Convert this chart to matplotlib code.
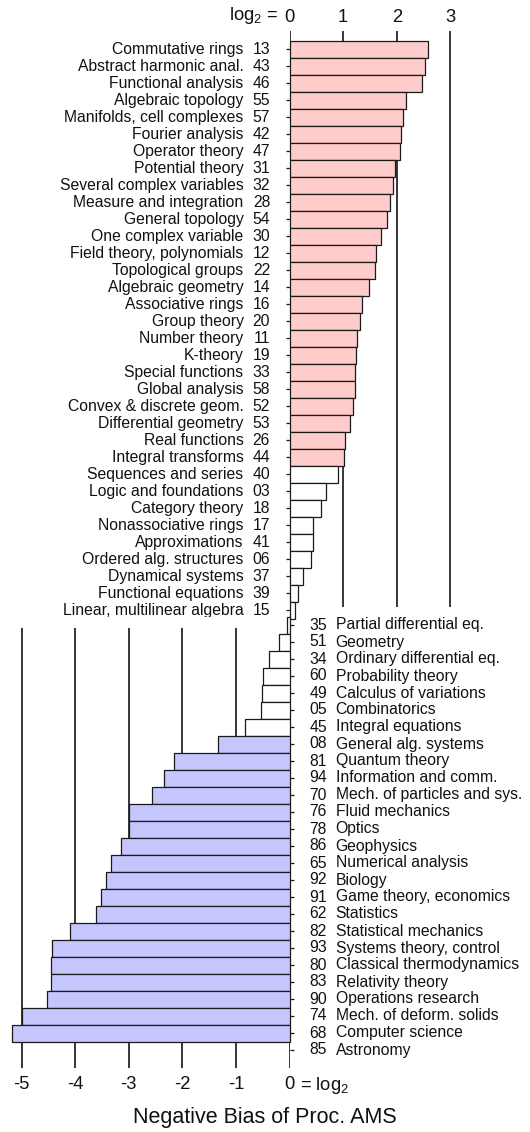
import numpy as np
import matplotlib
matplotlib.use("Agg")
import matplotlib.pyplot as plt

plt.rcParams['font.family'] = ['Liberation Sans', 'DejaVu Sans']
plt.rcParams['mathtext.fontset'] = 'custom'
plt.rcParams['mathtext.rm'] = 'Liberation Sans'
plt.rcParams['mathtext.it'] = 'Liberation Sans:italic'

# ---------------- data ----------------
top_names = ["Commutative rings", "Abstract harmonic anal.", "Functional analysis",
             "Algebraic topology", "Manifolds, cell complexes", "Fourier analysis",
             "Operator theory", "Potential theory", "Several complex variables",
             "Measure and integration", "General topology", "One complex variable",
             "Field theory, polynomials", "Topological groups", "Algebraic geometry",
             "Associative rings", "Group theory", "Number theory", "K-theory",
             "Special functions", "Global analysis", "Convex & discrete geom.",
             "Differential geometry", "Real functions", "Integral transforms",
             "Sequences and series", "Logic and foundations", "Category theory",
             "Nonassociative rings", "Approximations", "Ordered alg. structures",
             "Dynamical systems", "Functional equations", "Linear, multilinear algebra"]
top_codes = ["13", "43", "46", "55", "57", "42", "47", "31", "32", "28", "54", "30",
             "12", "22", "14", "16", "20", "11", "19", "33", "58", "52", "53", "26",
             "44", "40", "03", "18", "17", "41", "06", "37", "39", "15"]
top_vals = [2.59, 2.52, 2.48, 2.18, 2.12, 2.08, 2.065, 1.96, 1.94, 1.87, 1.82, 1.71,
            1.62, 1.60, 1.48, 1.35, 1.31, 1.26, 1.24, 1.23, 1.22, 1.19, 1.12, 1.04,
            1.01, 0.90, 0.68, 0.585, 0.44, 0.44, 0.40, 0.26, 0.15, 0.11]

bot_codes = ["35", "51", "34", "60", "49", "05", "45", "08", "81", "94", "70", "76",
             "78", "86", "65", "92", "91", "62", "82", "93", "80", "83", "90", "74",
             "68", "85"]
bot_names = ["Partial differential eq.", "Geometry", "Ordinary differential eq.",
             "Probability theory", "Calculus of variations", "Combinatorics",
             "Integral equations", "General alg. systems", "Quantum theory",
             "Information and comm.", "Mech. of particles and sys.", "Fluid mechanics",
             "Optics", "Geophysics", "Numerical analysis", "Biology",
             "Game theory, economics", "Statistics", "Statistical mechanics",
             "Systems theory, control", "Classical thermodynamics", "Relativity theory",
             "Operations research", "Mech. of deform. solids", "Computer science",
             "Astronomy"]
bot_vals = [-0.04, -0.205, -0.385, -0.50, -0.515, -0.53, -0.83, -1.34, -2.15, -2.35,
            -2.56, -2.99, -2.99, -3.15, -3.33, -3.43, -3.52, -3.61, -4.10, -4.43,
            -4.45, -4.45, -4.515, -5.0, -5.18, np.nan]

top_ticks = [0, 1, 2, 3]
top_ticklabels = ["0", "1", "2", "3"]
bot_ticks = [-5, -4, -3, -2, -1, 0]
bot_ticklabels = ["-5", "-4", "-3", "-2", "-1", "0"]
xlabel = "Negative Bias of Proc. AMS"

PINK = "#FFCCCC"
BLUE = "#C6C6FF"
EDGE = "#1a1a1a"
TXT = "#111111"
LAB = 11.3
TICK = 13.2

# ---------------- layout (pixels) ----------------
W, H = 530, 1132
x0 = 289.5      # pixel of value 0
unit = 53.6     # pixels per log2 unit
row = 17.0

fig = plt.figure(figsize=(W / 100, H / 100), dpi=100)

# top panel
top_xmax = 3.3
t_top_px, t_first = 31.0, 49.3
nt = len(top_vals)
t_ylim_top = -(t_first - t_top_px) / row
t_ylim_bot = nt - 0.5
t_bot_px = t_first + (t_ylim_bot) * row
axT = fig.add_axes([x0 / W, 1 - t_bot_px / H, top_xmax * unit / W,
                    (t_bot_px - t_top_px) / H])
axT.set_xlim(0, top_xmax)
axT.set_ylim(t_ylim_bot, t_ylim_top)
grid_end_top = (607 - t_first) / row
axT.vlines(top_ticks, grid_end_top, t_ylim_top, color='black', lw=1.1, zorder=0)
yt = np.arange(nt)
colors_t = [PINK if v > 1 else 'white' for v in top_vals]
axT.barh(yt, top_vals, height=1.0, color=colors_t, edgecolor=EDGE, lw=0.9,
         zorder=2, clip_on=False)
for sp in axT.spines.values():
    sp.set_visible(False)
axT.xaxis.tick_top()
axT.set_xticks(top_ticks)
axT.set_xticklabels(top_ticklabels, fontsize=TICK, color=TXT)
axT.tick_params(axis='x', length=0, pad=3.5)
axT.set_yticks(yt)
axT.set_yticklabels([])
axT.tick_params(axis='y', length=3.2, width=0.9, color=EDGE, direction='out')
for i in range(nt):
    axT.annotate(top_names[i], xy=(0, i), xytext=(-46, 0), textcoords='offset pixels',
                 ha='right', va='center', fontsize=LAB, color=TXT, annotation_clip=False)
    axT.annotate(top_codes[i], xy=(0, i), xytext=(-19.5, 0), textcoords='offset pixels',
                 ha='right', va='center', fontsize=LAB, color=TXT, annotation_clip=False)
axT.annotate("log$_2$ =", xy=(0, t_ylim_top), xytext=(-11, 15),
             textcoords='offset pixels', ha='right', va='center', fontsize=TICK,
             color=TXT, annotation_clip=False)

# bottom panel
bot_xmin = -5.35
b_first = 625.0
nb = len(bot_vals)
b_ylim_top = -0.5
b_bot_px = 1068.0
b_ylim_bot = (b_bot_px - b_first) / row
b_top_px = b_first + b_ylim_top * row
axB = fig.add_axes([(x0 + bot_xmin * unit) / W, 1 - b_bot_px / H, -bot_xmin * unit / W,
                    (b_bot_px - b_top_px) / H])
axB.set_xlim(bot_xmin, 0)
axB.set_ylim(b_ylim_bot, b_ylim_top)
grid_start_bot = (628 - b_first) / row
axB.vlines(bot_ticks, grid_start_bot, b_ylim_bot, color='black', lw=1.1, zorder=0)
yb = np.arange(nb)
colors_b = [BLUE if v < -1 else 'white' for v in bot_vals]
axB.barh(yb, bot_vals, height=1.0, color=colors_b, edgecolor=EDGE, lw=0.9,
         zorder=2, clip_on=False)
for sp in axB.spines.values():
    sp.set_visible(False)
axB.set_xticks(bot_ticks)
axB.set_xticklabels(bot_ticklabels, fontsize=TICK, color=TXT)
axB.tick_params(axis='x', length=0, pad=5.5)
axB.yaxis.tick_right()
axB.set_yticks(yb)
axB.set_yticklabels([])
axB.tick_params(axis='y', length=3.2, width=0.9, color=EDGE, direction='out')
for i in range(nb):
    axB.annotate(bot_codes[i], xy=(0, i), xytext=(20, 0), textcoords='offset pixels',
                 ha='left', va='center', fontsize=LAB, color=TXT, annotation_clip=False)
    axB.annotate(bot_names[i], xy=(0, i), xytext=(46, 0), textcoords='offset pixels',
                 ha='left', va='center', fontsize=LAB, color=TXT, annotation_clip=False)
axB.annotate("= log$_2$", xy=(0, b_ylim_bot), xytext=(11, -18),
             textcoords='offset pixels', ha='left', va='center', fontsize=TICK,
             color=TXT, annotation_clip=False)

fig.text(0.5, 1 - 1117 / H, xlabel, ha='center', va='center', fontsize=15.5, color=TXT)

fig.savefig("out.png", dpi=100)
